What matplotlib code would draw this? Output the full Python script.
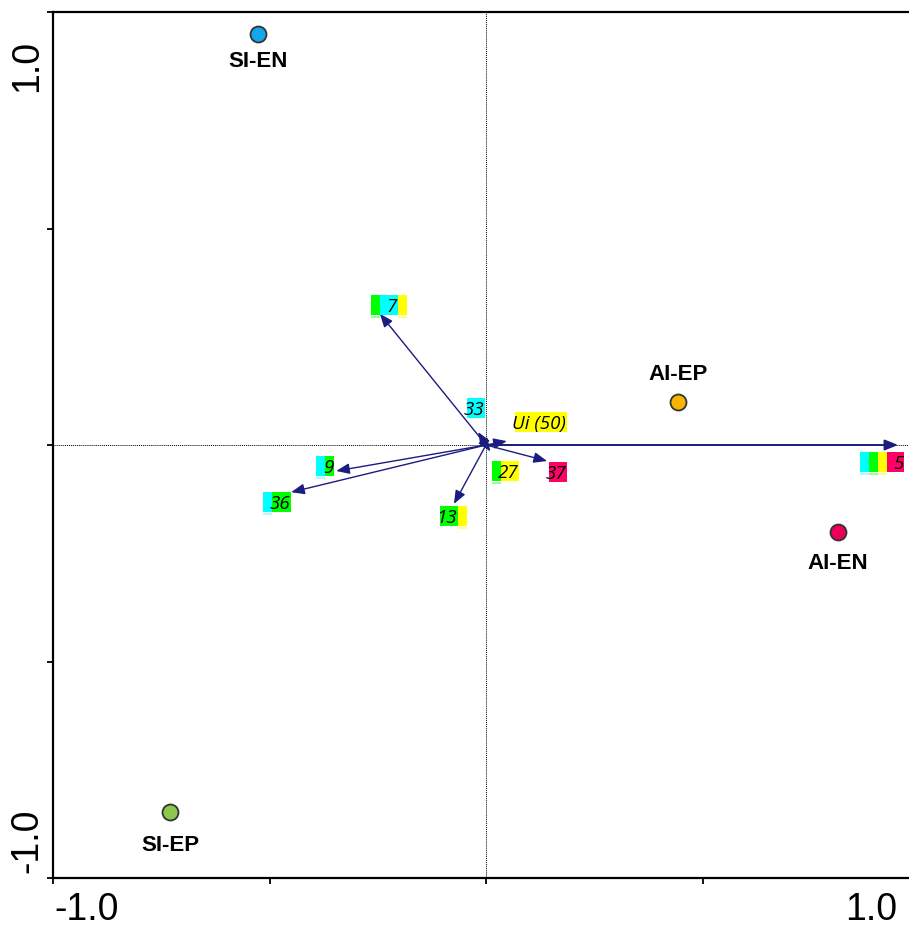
import matplotlib
matplotlib.use('Agg')
import matplotlib.pyplot as plt
from matplotlib.patches import Rectangle

# sample / site scores
site_names = ['SI-EN', 'SI-EP', 'AI-EP', 'AI-EN']
site_x = [-0.527, -0.730, 0.443, 0.813]
site_y = [0.949, -0.848, 0.099, -0.201]
site_colors = ['#16a6ee', '#8cc84a', '#f8b500', '#ea0058']

# species / variable arrows
arrow_labels = ['7', '33', 'Ui (50)', '27', '37', '13', '9', '36', '5']
arrow_x = [-0.245, -0.018, 0.048, 0.010, 0.141, -0.074, -0.346, -0.450, 0.952]
arrow_y = [0.303, 0.030, 0.009, -0.015, -0.037, -0.136, -0.060, -0.109, 0.0]
arrow_groups = [['g', 'c', 'y'], ['c'], ['y'], ['g', 'y'], ['m'],
                ['g', 'y'], ['c', 'g'], ['c', 'g'], ['c', 'g', 'y', 'm']]

box_col = {'c': '#00ffff', 'g': '#00ff00', 'y': '#ffff00', 'm': '#ff0066'}
box_light = {'c': '#aaffff', 'g': '#99ff99', 'y': '#ffff99', 'm': '#ff99bb'}

# layout of the label boxes (pixels relative to arrow tip: left, top; text segment, its width)
box_off = [(-9, -19), (-11, -34), (8, -29), (2, 10), (2, 1), (-14, 2), (-20, -15), (-28, 0), (-38, 7)]
text_seg = [1, 0, 0, 1, 0, 0, 1, 1, 3]
text_w = [18, 18, 52, 18, 18, 18, 9, 19, 17]
# label offsets for the site names (pixels, + is down)
name_off = [26, 32, -29, 30]

W, H = 909, 929
fig = plt.figure(figsize=(W / 100, H / 100), dpi=100)
ax = fig.add_axes([53 / W, (H - 879) / H, 866 / W, 866 / H])
ax.set_xlim(-1, 1)
ax.set_ylim(-1, 1)
PX = 2 / 866.0

for s in ['left', 'bottom', 'top', 'right']:
    ax.spines[s].set_linewidth(1.6)
ax.set_xticks([-1, -0.5, 0, 0.5, 1])
ax.set_yticks([-1, -0.5, 0, 0.5, 1])
ax.set_xticklabels([])
ax.set_yticklabels([])
ax.tick_params(direction='out', length=4, width=1.3)

ax.axhline(0, color='black', lw=0.7, ls=(0, (1, 1)), zorder=1)
ax.axvline(0, color='black', lw=0.7, ls=(0, (1, 1)), zorder=1)

# arrows
for i in range(len(arrow_labels)):
    lw = 1.4 if arrow_labels[i] == '5' else 1.0
    ax.annotate('', xy=(arrow_x[i], arrow_y[i]), xytext=(0, 0),
                arrowprops=dict(arrowstyle='-|>,head_length=0.5,head_width=0.2',
                                color='#1c1c80', lw=lw, mutation_scale=16,
                                shrinkA=0, shrinkB=0), zorder=3)

# colored label boxes
bh = 20
for i, lab in enumerate(arrow_labels):
    left = arrow_x[i] + box_off[i][0] * PX
    top = arrow_y[i] - box_off[i][1] * PX
    x = left
    for j, g in enumerate(arrow_groups[i]):
        w = text_w[i] if j == text_seg[i] else 9
        ax.add_patch(Rectangle((x, top - bh * PX), w * PX, bh * PX,
                               facecolor=box_col[g], edgecolor='none', zorder=4))
        if j != text_seg[i]:
            ax.add_patch(Rectangle((x, top - (bh + 3) * PX), w * PX, 2 * PX,
                                   facecolor=box_light[g], edgecolor='none', zorder=4))
        if j == text_seg[i]:
            ax.text(x + (w - 1) * PX, top - (bh / 2 + 1) * PX, lab, ha='right', va='center',
                    fontsize=13.5, style='italic', family='Open Sans', zorder=5)
        x += w * PX

# site points
for i, name in enumerate(site_names):
    ax.plot(site_x[i], site_y[i], 'o', ms=11.5, mfc=site_colors[i], mec='#333333',
            mew=1.3, zorder=6)
    ax.annotate(name, (site_x[i], site_y[i]), xytext=(0, -name_off[i] * 0.72),
                textcoords='offset points', ha='center', va='center',
                fontsize=16, fontweight='bold', family='Liberation Sans', zorder=6)

# axis end labels
fig.text(54 / W, 1 - 910 / H, '-1.0', ha='left', va='center', fontsize=27, family='Liberation Sans')
fig.text(897 / W, 1 - 910 / H, '1.0', ha='right', va='center', fontsize=27, family='Liberation Sans')
fig.text(27 / W, 1 - 66 / H, '1.0', ha='center', va='center', rotation=90, fontsize=27, family='Liberation Sans')
fig.text(27 / W, 1 - 841 / H, '-1.0', ha='center', va='center', rotation=90, fontsize=27, family='Liberation Sans')

fig.savefig('out.png', dpi=100)
